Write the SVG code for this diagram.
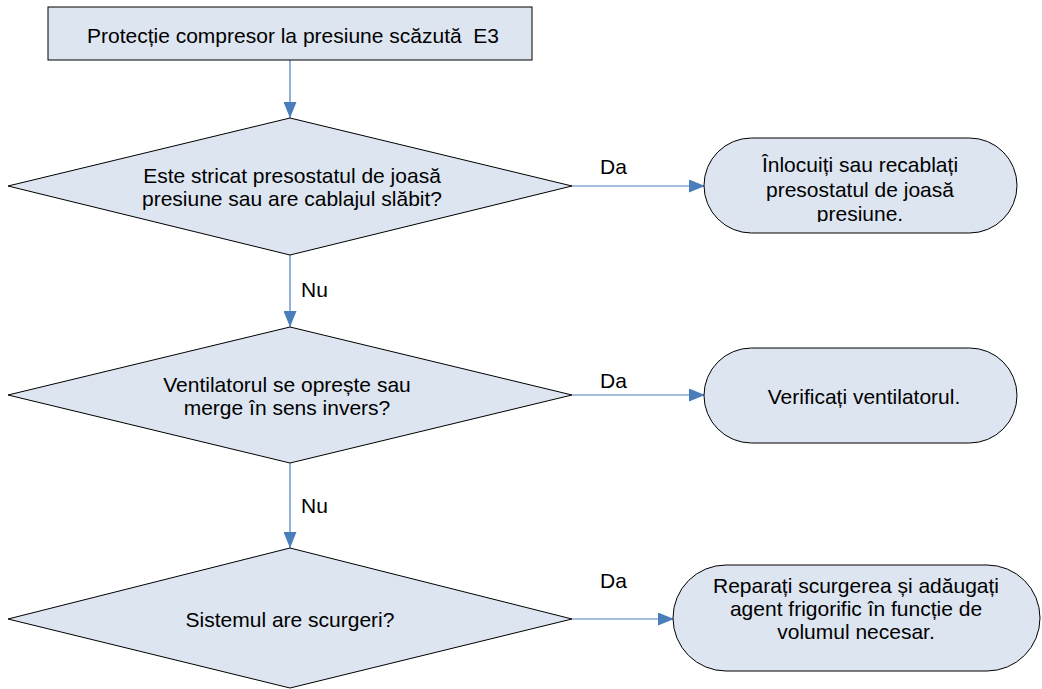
<svg xmlns="http://www.w3.org/2000/svg" width="1042" height="689" viewBox="0 0 1042 689">
<defs>
<style>
.shape{fill:#dde5f0;stroke:#000;stroke-width:1}
.t{font-family:"Liberation Sans",Arial,sans-serif;font-size:21px;fill:#000;text-anchor:middle}
.lbl{font-family:"Liberation Sans",Arial,sans-serif;font-size:21px;fill:#000}
.c{stroke:#4a7ebb;stroke-width:1.2;fill:none;marker-end:url(#ah)}
</style>
<marker id="ah" viewBox="0 0 16 13" refX="16" refY="6.5" markerWidth="16" markerHeight="13" markerUnits="userSpaceOnUse" orient="auto">
<path d="M0,0 L16,6.5 L0,13 Z" fill="#4a7ebb"/>
</marker>
<clipPath id="clip1"><rect x="704" y="138" width="313" height="84"/></clipPath>
</defs>
<rect width="1042" height="689" fill="#fff"/>
<g id="connectors">
<line class="c" x1="290" y1="60" x2="290" y2="118"/>
<line class="c" x1="290" y1="255" x2="290" y2="327"/>
<line class="c" x1="290" y1="463" x2="290" y2="548"/>
<line class="c" x1="572" y1="186" x2="705" y2="186"/>
<line class="c" x1="572" y1="395" x2="705" y2="395"/>
<line class="c" x1="572" y1="619" x2="674" y2="619"/>
<text class="lbl" x="301" y="297">Nu</text>
<text class="lbl" x="301" y="513">Nu</text>
<text class="lbl" x="600" y="174">Da</text>
<text class="lbl" x="600" y="388">Da</text>
<text class="lbl" x="600" y="588">Da</text>
</g>
<g id="start">
<rect class="shape" x="48" y="7" width="484" height="53"/>
<text class="t" x="293" y="43" xml:space="preserve">Protecție compresor la presiune scăzută  E3</text>
</g>
<g id="q1">
<polygon class="shape" points="290,118 572,186 290,255 8,186"/>
<text class="t" x="292" y="183">Este stricat presostatul de joasă</text>
<text class="t" x="292" y="206">presiune sau are cablajul slăbit?</text>
</g>
<g id="a1">
<rect class="shape" x="704" y="138" width="313" height="95" rx="47.5"/>
<g clip-path="url(#clip1)">
<text class="t" x="860" y="172">Înlocuiți sau recablați</text>
<text class="t" x="860" y="197">presostatul de joasă</text>
<text class="t" x="860" y="221">presiune.</text>
</g>
</g>
<g id="q2">
<polygon class="shape" points="290,327 572,395 290,463 8,395"/>
<text class="t" x="287" y="392">Ventilatorul se oprește sau</text>
<text class="t" x="287" y="415">merge în sens invers?</text>
</g>
<g id="a2">
<rect class="shape" x="704" y="348" width="313" height="95" rx="47.5"/>
<text class="t" x="864" y="404">Verificați ventilatorul.</text>
</g>
<g id="q3">
<polygon class="shape" points="290,548 572,619 290,688 8,619"/>
<text class="t" x="290" y="627">Sistemul are scurgeri?</text>
</g>
<g id="a3">
<rect class="shape" x="673" y="565" width="367" height="106" rx="53"/>
<text class="t" x="856" y="593">Reparați scurgerea și adăugați</text>
<text class="t" x="856" y="616">agent frigorific în funcție de</text>
<text class="t" x="856" y="639">volumul necesar.</text>
</g>
</svg>
